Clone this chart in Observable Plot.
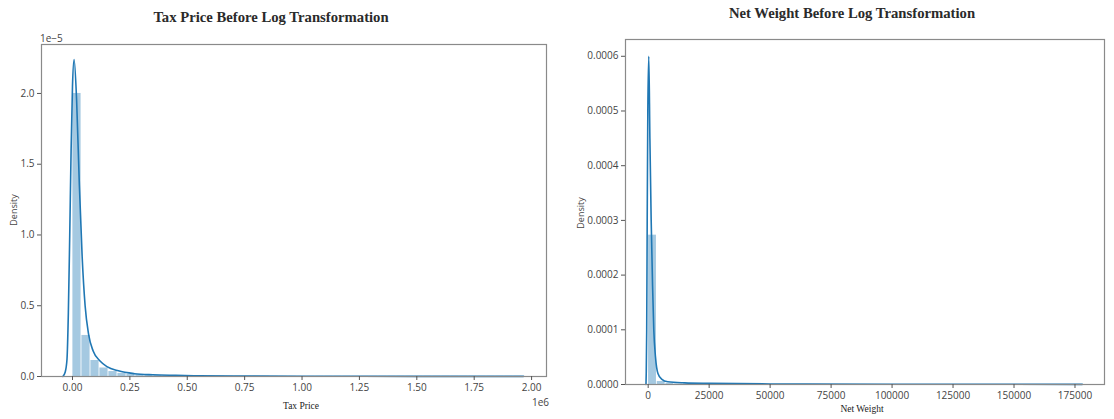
<!DOCTYPE html>
<html>
<head>
<meta charset="utf-8">
<script src="https://cdn.jsdelivr.net/npm/d3@7"></script>
<script src="https://cdn.jsdelivr.net/npm/@observablehq/plot@0.6"></script>
<style>
  html, body { margin: 0; padding: 0; background: #fff; }
  #wrap { position: relative; width: 1114px; height: 419px; overflow: hidden; font-family: "Open Sans", "DejaVu Sans", sans-serif; }
  .panel { position: absolute; top: 0; }
  .title { position: absolute; font-family: "Liberation Serif", "DejaVu Serif", serif; font-weight: bold; font-size: 14.7px; color: #2a2a2a; white-space: nowrap; transform: translate(-50%, -50%); }
  .lab { position: absolute; font-size: 9px; color: #444; white-space: nowrap; }
  .serif { font-family: "Liberation Serif", "DejaVu Serif", serif; font-size: 9.5px; color: #222; }
</style>
</head>
<body>
<div id="wrap"></div>
<script>
// ---------- Tax Price (density shown in units of 1e-5) ----------
const taxBinStart = 0;
const taxBinWidth = 39200;
const taxHist = [2.0, 0.29, 0.113, 0.06, 0.035, 0.022, 0.016, 0.012, 0.009, 0.007,
  0.006, 0.005, 0.004, 0.004, 0.003, 0.003, 0.003, 0.002, 0.002, 0.002,
  0.002, 0.002, 0.001, 0.001, 0.001, 0.001, 0.001, 0.001, 0.001, 0.001,
  0.001, 0.001, 0.001, 0.001, 0.001, 0.001, 0.001, 0.001, 0.001, 0.001,
  0.001, 0.001, 0.001, 0.001, 0.001, 0.001, 0.001, 0.001, 0.001, 0.001];
const taxKdeX = [-42000, -32000, -24000, -18000, -12000, -6000, 0, 7000, 18000, 30000,
  42000, 55000, 70000, 90000, 120000, 150000, 200000, 270000, 350000, 450000,
  550000, 700000, 1000000, 1500000, 1965000];
const taxKdeY = [0, 0.03, 0.12, 0.45, 1.0, 1.6, 2.05, 2.24, 1.95, 1.35,
  0.85, 0.5, 0.3, 0.18, 0.11, 0.07, 0.04, 0.02, 0.012, 0.008,
  0.005, 0.003, 0.002, 0.001, 0.001];
const taxXTicks = [0, 250000, 500000, 750000, 1000000, 1250000, 1500000, 1750000, 2000000];
const taxYTicks = [0, 0.5, 1.0, 1.5, 2.0];

// ---------- Net Weight ----------
const netBinStart = 0;
const netBinWidth = 3560;
const netHist = [0.000273, 0.0000055, 0.0000018, 0.000001, 0.0000007, 0.0000005, 0.0000004, 0.0000003, 0.0000003, 0.0000002,
  0.0000002, 0.0000002, 0.0000001, 0.0000001, 0.0000001, 0.0000001, 0.0000001, 0.0000001, 0.0000001, 0.0000001,
  0, 0, 0, 0, 0, 0, 0, 0, 0, 0, 0, 0, 0, 0, 0, 0, 0, 0, 0, 0,
  0, 0, 0, 0, 0, 0, 0, 0, 0, 0.0000001];
const netKdeX = [-900, -800, -600, -400, -150, 250, 700, 1230, 1800, 2300,
  3000, 4000, 5500, 8000, 15000, 25000, 50000, 100000, 178000];
const netKdeY = [0, 0.00002, 0.0001, 0.0003, 0.0005, 0.0006, 0.00045, 0.0003, 0.00018, 0.0001,
  0.00005, 0.00002, 0.00001, 0.000005, 0.000003, 0.000002, 0.000001, 0.0000005, 0.0000003];
const netXTicks = [0, 25000, 50000, 75000, 100000, 125000, 150000, 175000];
const netYTicks = [0, 0.0001, 0.0002, 0.0003, 0.0004, 0.0005, 0.0006];

const blue = "#1f77b4";
const tickColor = "#444";

function bins(start, width, heights) {
  return heights.map((h, i) => ({x1: start + i * width, x2: start + (i + 1) * width, y: h}));
}
function pts(xs, ys) { return xs.map((x, i) => ({x, y: ys[i]})); }

function makePanel(cfg) {
  return Plot.plot({
    width: cfg.width, height: 419,
    marginLeft: cfg.ml, marginRight: cfg.mr, marginTop: cfg.mt, marginBottom: cfg.mb,
    style: {fontFamily: '"Open Sans", "DejaVu Sans", sans-serif', fontSize: "10px", color: tickColor, background: "white"},
    x: {domain: cfg.xDomain},
    y: {domain: cfg.yDomain},
    marks: [
      Plot.rectY(cfg.bins, {x1: "x1", x2: "x2", y: "y", fill: blue, fillOpacity: 0.4, insetLeft: 0.4, insetRight: 0.4}),
      Plot.line(cfg.kde, {x: "x", y: "y", stroke: blue, strokeWidth: 1.6, curve: "monotone-x"}),
      Plot.frame({stroke: "#8a8a8a", strokeWidth: 1.2}),
      Plot.axisX({ticks: cfg.xTicks, tickFormat: cfg.xFmt, tickSize: 4, tickPadding: 3, label: null, stroke: "#555"}),
      Plot.axisY({ticks: cfg.yTicks, tickFormat: cfg.yFmt, tickSize: 4, tickPadding: 3, label: null, stroke: "#555"})
    ]
  });
}

const wrap = document.getElementById("wrap");

const left = makePanel({
  width: 560, ml: 41, mr: 14, mt: 44, mb: 43,
  xDomain: [-135000, 2065000], yDomain: [0, 2.346],
  bins: bins(taxBinStart, taxBinWidth, taxHist),
  kde: pts(taxKdeX, taxKdeY),
  xTicks: taxXTicks, xFmt: d => (d / 1e6).toFixed(2),
  yTicks: taxYTicks, yFmt: d => d.toFixed(1)
});
const leftDiv = document.createElement("div");
leftDiv.className = "panel"; leftDiv.style.left = "0px";
leftDiv.appendChild(left);
wrap.appendChild(leftDiv);

const right = makePanel({
  width: 554, ml: 65, mr: 10, mt: 39, mb: 35,
  xDomain: [-9300, 187100], yDomain: [0, 0.0006307],
  bins: bins(netBinStart, netBinWidth, netHist),
  kde: pts(netKdeX, netKdeY),
  xTicks: netXTicks, xFmt: d => String(d),
  yTicks: netYTicks, yFmt: d => d.toFixed(4)
});
const rightDiv = document.createElement("div");
rightDiv.className = "panel"; rightDiv.style.left = "560px";
rightDiv.appendChild(right);
wrap.appendChild(rightDiv);

function addText(text, cls, x, y, extra) {
  const el = document.createElement("div");
  el.className = cls;
  el.textContent = text;
  el.style.left = x + "px"; el.style.top = y + "px";
  if (extra) Object.assign(el.style, extra);
  wrap.appendChild(el);
  return el;
}
addText("Tax Price Before Log Transformation", "title", 271, 17);
addText("Net Weight Before Log Transformation", "title", 852, 13);
addText("1e\u22125", "lab", 40, 31, {fontSize: "10px"});
addText("1e6", "lab", 532, 395, {fontSize: "10px"});
addText("Tax Price", "lab serif", 301, 401, {transform: "translateX(-50%)"});
addText("Net Weight", "lab serif", 862, 404, {transform: "translateX(-50%)"});
addText("Density", "lab", 13, 210, {transform: "translate(-50%, -50%) rotate(-90deg)"});
addText("Density", "lab", 580, 213, {transform: "translate(-50%, -50%) rotate(-90deg)"});
</script>
</body>
</html>
